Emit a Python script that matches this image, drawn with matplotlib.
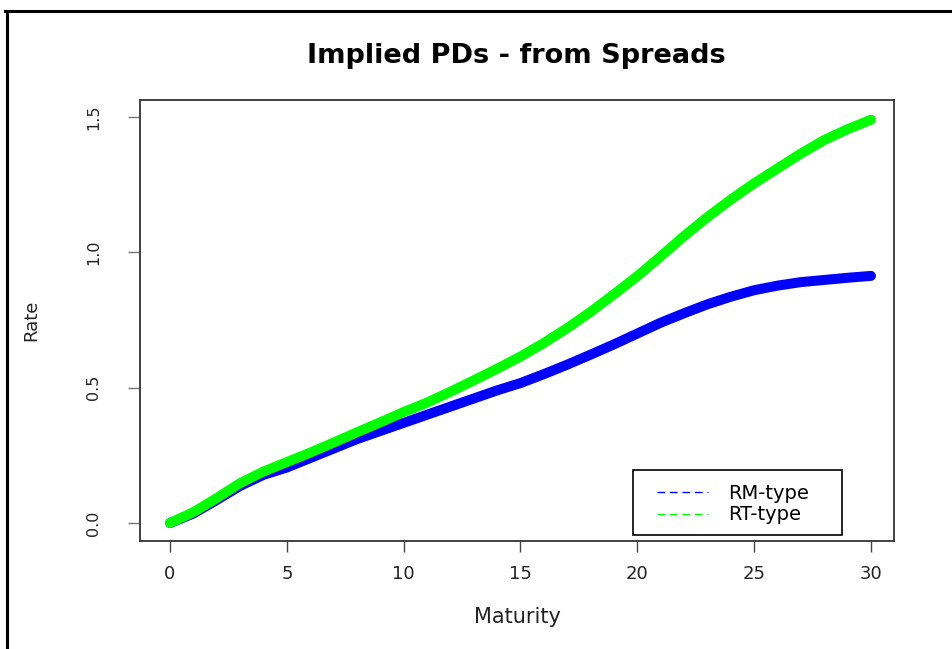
import matplotlib
matplotlib.use("Agg")
import matplotlib.pyplot as plt
from matplotlib.lines import Line2D
from matplotlib.patches import Rectangle

# values
maturity = list(range(0, 31))
rm_type = [0.0, 0.035, 0.085, 0.137, 0.178, 0.205, 0.24, 0.275, 0.31, 0.34,
           0.37, 0.40, 0.43, 0.46, 0.49, 0.517, 0.55, 0.585, 0.622, 0.66,
           0.70, 0.74, 0.775, 0.808, 0.836, 0.86, 0.877, 0.89, 0.898, 0.906,
           0.913]
rt_type = [0.0, 0.04, 0.092, 0.147, 0.19, 0.225, 0.26, 0.297, 0.335, 0.372,
           0.41, 0.445, 0.485, 0.527, 0.57, 0.615, 0.665, 0.72, 0.78, 0.845,
           0.912, 0.985, 1.06, 1.13, 1.195, 1.255, 1.31, 1.365, 1.415, 1.455,
           1.49]
x_ticks = [0, 5, 10, 15, 20, 25, 30]
y_ticks = [0.0, 0.5, 1.0, 1.5]
y_labels = ["0.0", "0.5", "1.0", "1.5"]
series_names = ["RM-type", "RT-type"]
series_colors = ["#0000ff", "#00ff00"]

W, H = 953, 649
fig = plt.figure(figsize=(W / 100, H / 100), dpi=100)
plt.rcParams['font.family'] = ['DejaVu Sans']

# axes box in pixel units of the reference
l, r, t, b = 140, 894, 100, 541
ax = fig.add_axes([l / W, 1 - b / H, (r - l) / W, (b - t) / H])

ax.plot(maturity, rm_type, color=series_colors[0], lw=7.2,
        solid_capstyle='round', solid_joinstyle='round')
ax.plot(maturity, rt_type, color=series_colors[1], lw=7.2,
        solid_capstyle='round', solid_joinstyle='round')

ax.set_xlim(-30 / 23.37, 30 + 23 / 23.37)
ax.set_ylim(-18 / 270.7, 1.5 + 17 / 270.7)

ax.set_xticks(x_ticks)
ax.set_xticklabels([str(v) for v in x_ticks], fontsize=13, color="#222222")
ax.set_yticks(y_ticks)
ax.set_yticklabels(y_labels, fontsize=11.5, color="#222222", rotation=90,
                   va="center")
ax.tick_params(axis="x", length=8, width=1, color="#444444", pad=9)
ax.tick_params(axis="y", length=9, width=1, color="#777777", pad=19)
for s in ax.spines.values():
    s.set_color("#333333")
    s.set_linewidth(1.3)

fig.text(516 / W, 1 - 56 / H, "Implied PDs - from Spreads", ha="center",
         va="center", fontsize=19.5, fontweight="heavy")
fig.text(517 / W, 1 - 617 / H, "Maturity", ha="center", va="center",
         fontsize=15, color="#222222")
fig.text(31 / W, 1 - 320 / H, "Rate", ha="center", va="center",
         fontsize=13, rotation=90, color="#222222")

# legend box
fig.add_artist(Rectangle((633 / W, 1 - 535 / H), (842 - 633) / W, 65 / H,
                         transform=fig.transFigure, fill=True, facecolor="white",
                         edgecolor="black", lw=1.2, zorder=5))
handles = [Line2D([], [], color=c, ls=(0, (5.5, 3.5)), lw=1)
           for c in series_colors]
fig.legend(handles, series_names, loc="center left",
           bbox_to_anchor=(657 / W, 1 - 504 / H), frameon=False, fontsize=14,
           handlelength=2.6, handletextpad=1.05, labelspacing=0.15,
           borderpad=0, borderaxespad=0).set_zorder(6)

# outer frame of the screenshot
fig.add_artist(Line2D([6.5 / W, 6.5 / W], [0, 1 - 10.5 / H], color="black",
                      lw=2.2, transform=fig.transFigure))
fig.add_artist(Line2D([5.5 / W, 1], [1 - 10.5 / H, 1 - 10.5 / H],
                      color="black", lw=2.2, transform=fig.transFigure))

fig.savefig("out.png", dpi=100, facecolor="white")
